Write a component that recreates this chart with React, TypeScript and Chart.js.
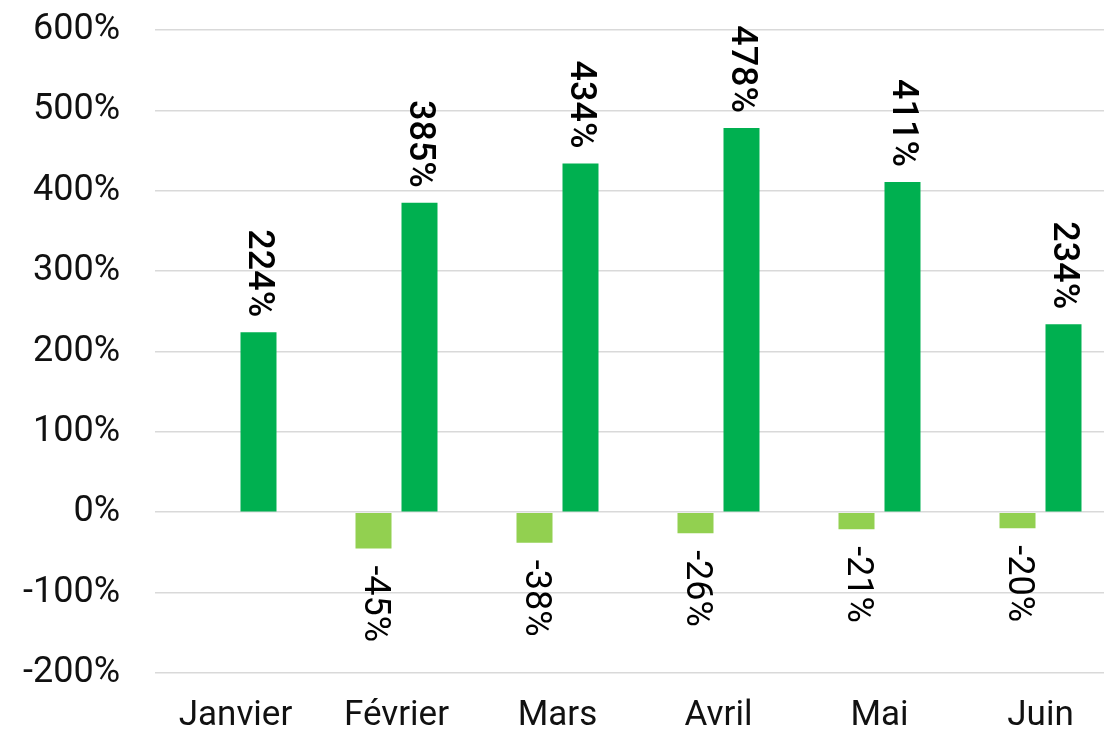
import React, { useEffect, useRef } from "react";
import { Chart, registerables } from "chart.js";

Chart.register(...registerables);

const categories = ["Janvier", "Février", "Mars", "Avril", "Mai", "Juin"];
const negativeSeries: (number | null)[] = [null, -45, -38, -26, -21, -20];
const positiveSeries: number[] = [224, 385, 434, 478, 411, 234];
const yMin = -200;
const yMax = 600;
const yStep = 100;

const FONT = "Roboto, 'Open Sans', sans-serif";

const labelPlugin = {
  id: "rotatedLabels",
  afterDatasetsDraw(chart: any) {
    const ctx = chart.ctx;
    chart.data.datasets.forEach((ds: any, i: number) => {
      const meta = chart.getDatasetMeta(i);
      meta.data.forEach((bar: any, j: number) => {
        const v = ds.data[j];
        if (v === null || v === undefined) return;
        const { x, y } = bar.getProps(["x", "y"], true);
        ctx.save();
        const pos = v >= 0;
        ctx.translate(x, pos ? y - 15 : y + 17);
        ctx.rotate(Math.PI / 2);
        ctx.textAlign = pos ? "right" : "left";
        ctx.textBaseline = "middle";
        ctx.fillStyle = "#000000";
        ctx.font = `${pos ? "500 " : ""}36px ${FONT}`;
        ctx.fillText(`${v}%`, 0, 0);
        ctx.restore();
      });
    });
  },
};

export default function App() {
  const ref = useRef<HTMLCanvasElement | null>(null);
  useEffect(() => {
    if (!ref.current) return;
    const chart = new Chart(ref.current, {
      type: "bar",
      data: {
        labels: categories,
        datasets: [
          {
            label: "Négatif",
            data: negativeSeries,
            backgroundColor: "#92D050",
            categoryPercentage: 0.5714,
            barPercentage: 0.7826,
          },
          {
            label: "Positif",
            data: positiveSeries,
            backgroundColor: "#00B050",
            categoryPercentage: 0.5714,
            barPercentage: 0.7826,
          },
        ],
      },
      options: {
        responsive: false,
        animation: false,
        layout: { padding: { top: 30, right: 0, left: 0, bottom: 0 } },
        plugins: {
          legend: { display: false },
          tooltip: { enabled: false },
        },
        scales: {
          x: {
            grid: { display: false },
            border: { display: false },
            ticks: {
              color: "#111111",
              font: { family: FONT, size: 35 },
              padding: 14,
              maxRotation: 0,
            },
            afterFit(scale: any) {
              scale.height = 63;
              scale.paddingLeft = 0;
              scale.paddingRight = 0;
            },
          },
          y: {
            min: yMin,
            max: yMax,
            grid: { color: "#d9d9d9", lineWidth: 1.6, drawTicks: false },
            border: { display: false },
            ticks: {
              stepSize: yStep,
              color: "#111111",
              font: { family: FONT, size: 36 },
              padding: 35,
              callback: (v: any) => `${v}%`,
            },
            afterFit(scale: any) {
              scale.width = 155;
              scale.paddingTop = 0;
              scale.paddingBottom = 0;
            },
          },
        },
      },
      plugins: [labelPlugin],
    });
    return () => chart.destroy();
  }, []);
  return (
    <div style={{ position: "fixed", left: 0, top: 0, width: 1104, height: 736, overflow: "hidden", background: "#fff" }}>
      <canvas ref={ref} width={1121} height={736} style={{ width: 1121, height: 736, display: "block" }} />
    </div>
  );
}
